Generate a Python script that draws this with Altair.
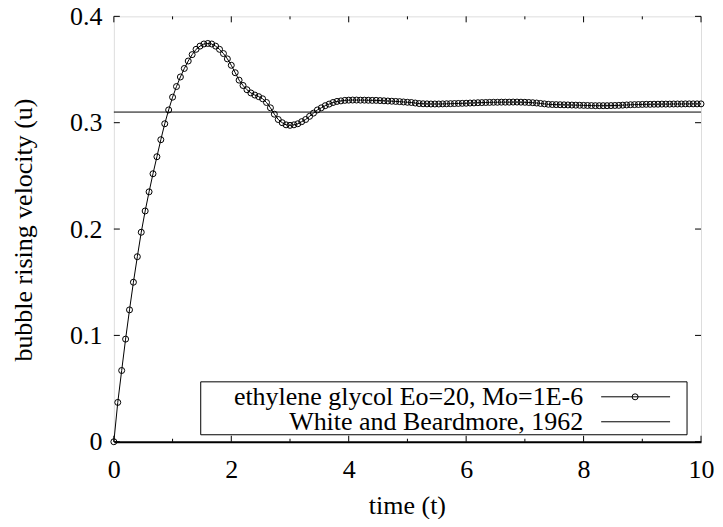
import altair as alt
import pandas as pd

# ---------------- data ----------------
dt_steps = 150  # samples from t=0 to t=10
time_t = [round(k * 10 / dt_steps, 4) for k in range(dt_steps + 1)]

velocity_u = [
    0.0, 0.037, 0.067, 0.0965, 0.124, 0.150, 0.174, 0.197, 0.217, 0.235,
    0.252, 0.268, 0.284, 0.299, 0.312, 0.324, 0.334, 0.343, 0.351, 0.358,
    0.364, 0.369, 0.372, 0.374, 0.3745, 0.374, 0.372, 0.369, 0.365, 0.360,
    0.354, 0.347, 0.340, 0.335, 0.331, 0.328, 0.326, 0.3245, 0.3225, 0.319,
    0.314, 0.308, 0.303, 0.300, 0.298, 0.2975, 0.298, 0.299, 0.301, 0.303,
    0.306, 0.309, 0.312, 0.314, 0.316, 0.3175, 0.319, 0.320, 0.3205, 0.321,
    0.3212, 0.3213, 0.3213, 0.3212, 0.3212, 0.3211, 0.321, 0.321, 0.3208, 0.3206,
    0.3204, 0.3202, 0.320, 0.3198, 0.3195, 0.3192, 0.319, 0.3185, 0.318, 0.3178,
    0.3177, 0.3176, 0.3176, 0.3176, 0.3177, 0.3178, 0.3179, 0.318, 0.3181, 0.3182,
    0.3183, 0.3185, 0.3186, 0.3188, 0.3189, 0.319, 0.3191, 0.3192, 0.3192, 0.3193,
    0.3193, 0.3193, 0.3194, 0.3194, 0.3193, 0.3192, 0.319, 0.3188, 0.3185, 0.3181,
    0.3177, 0.3173, 0.3171, 0.317, 0.3169, 0.3168, 0.3167, 0.3166, 0.3165, 0.3164,
    0.3163, 0.3162, 0.3161, 0.316, 0.316, 0.316, 0.316, 0.3161, 0.3162, 0.3163,
    0.3165, 0.3167, 0.3169, 0.317, 0.3171, 0.3172, 0.3173, 0.3173, 0.3174, 0.3174,
    0.3175, 0.3175, 0.3175, 0.3176, 0.3176, 0.3176, 0.3177, 0.3177, 0.3177, 0.3177,
    0.3177,
]

wb_time = [0, 10]
wb_value = [0.31, 0.31]

x_major = [0, 2, 4, 6, 8, 10]
x_minor = [1, 3, 5, 7, 9]
y_major = [0, 0.1, 0.2, 0.3, 0.4]

series_labels = ["ethylene glycol Eo=20, Mo=1E-6", "White and Beardmore, 1962"]
x_title = "time (t)"
y_title = "bubble rising velocity (u)"

# ---------------- layout ----------------
W, H = 588, 426
FONT = "Times New Roman, Liberation Serif, DejaVu Serif, serif"
FS = 26
MAJ, MIN = 6, 3

df = pd.DataFrame({"t": time_t, "u": velocity_u})
wb = pd.DataFrame({"t": wb_time, "u": wb_value})
xmaj = pd.DataFrame({"t": x_major})
xmin = pd.DataFrame({"t": x_minor})
ymaj = pd.DataFrame({"u": y_major})
one = pd.DataFrame({"k": [0]})

xs = alt.Scale(domain=[0, 10], nice=False, zero=False)
ys = alt.Scale(domain=[0, 0.4], nice=False, zero=False)

x_axis = alt.Axis(values=x_major, format="d", title="", grid=False, ticks=False,
                  tickSize=0, domain=True, domainColor="black", domainWidth=2,
                  labelFlush=False, labelOverlap=False,
                  labelFont=FONT, labelFontSize=FS,
                  labelColor="black", labelPadding=15)
y_axis = alt.Axis(values=y_major, format="~g", title="", grid=False, ticks=False,
                  tickSize=0, domain=False, labelFlush=False, labelOverlap=False,
                  labelFont=FONT, labelFontSize=FS,
                  labelColor="black", labelPadding=12)

line = alt.Chart(df).mark_line(color="black", strokeWidth=1).encode(
    x=alt.X("t:Q", scale=xs, axis=x_axis),
    y=alt.Y("u:Q", scale=ys, axis=y_axis),
)
pts = alt.Chart(df).mark_point(shape="circle", filled=False, size=36, color="black",
                               strokeWidth=1, opacity=1).encode(
    x=alt.X("t:Q", scale=xs), y=alt.Y("u:Q", scale=ys)
)
wb_line = alt.Chart(wb).mark_line(color="black", strokeWidth=1).encode(
    x=alt.X("t:Q", scale=xs), y=alt.Y("u:Q", scale=ys)
)

# inward ticks (gnuplot style), mirrored on all sides
tick_style = dict(color="black", strokeWidth=1)
t_bot_maj = alt.Chart(xmaj).mark_rule(**tick_style).encode(
    x=alt.X("t:Q", scale=xs), y=alt.value(H), y2=alt.value(H - MAJ))
t_top_maj = alt.Chart(xmaj).mark_rule(**tick_style).encode(
    x=alt.X("t:Q", scale=xs), y=alt.value(0), y2=alt.value(MAJ))
t_bot_min = alt.Chart(xmin).mark_rule(**tick_style).encode(
    x=alt.X("t:Q", scale=xs), y=alt.value(H), y2=alt.value(H - MIN))
t_top_min = alt.Chart(xmin).mark_rule(**tick_style).encode(
    x=alt.X("t:Q", scale=xs), y=alt.value(0), y2=alt.value(MIN))
t_left = alt.Chart(ymaj).mark_rule(**tick_style).encode(
    y=alt.Y("u:Q", scale=ys), x=alt.value(0), x2=alt.value(MAJ))
t_right = alt.Chart(ymaj).mark_rule(**tick_style).encode(
    y=alt.Y("u:Q", scale=ys), x=alt.value(W), x2=alt.value(W - MAJ))

# axis titles
xt = alt.Chart(one).mark_text(text=x_title, font=FONT, fontSize=FS, align="center",
                              baseline="middle", color="black").encode(
    x=alt.value(W / 2), y=alt.value(H + 64))
yt = alt.Chart(one).mark_text(text=y_title, font=FONT, fontSize=FS, align="center",
                              baseline="middle", angle=270, color="black").encode(
    x=alt.value(-90), y=alt.value(H / 2 + 1))

# legend box (bottom right, text right-aligned left of sample)
LX0, LX1, LY0, LY1 = 87, 574, 366, 419
TX = 470
R1, R2 = 381, 406
SX0, SX1, SXM = 488, 557, 522

leg_box = alt.Chart(one).mark_rect(fill="white", stroke="black", strokeWidth=1).encode(
    x=alt.value(LX0), x2=alt.value(LX1), y=alt.value(LY0), y2=alt.value(LY1))
leg_t1 = alt.Chart(one).mark_text(text=series_labels[0], font=FONT, fontSize=FS,
                                  align="right", baseline="middle", color="black").encode(
    x=alt.value(TX), y=alt.value(R1))
leg_t2 = alt.Chart(one).mark_text(text=series_labels[1], font=FONT, fontSize=FS,
                                  align="right", baseline="middle", color="black").encode(
    x=alt.value(TX), y=alt.value(R2))
leg_l1 = alt.Chart(one).mark_rule(color="black", strokeWidth=1).encode(
    x=alt.value(SX0), x2=alt.value(SX1), y=alt.value(R1))
leg_p1 = alt.Chart(one).mark_point(shape="circle", filled=False, size=36, color="black",
                                   strokeWidth=1, opacity=1).encode(
    x=alt.value(SXM), y=alt.value(R1))
leg_l2 = alt.Chart(one).mark_rule(color="black", strokeWidth=1).encode(
    x=alt.value(SX0), x2=alt.value(SX1), y=alt.value(R2))

chart = alt.layer(
    wb_line, line, pts,
    t_bot_maj, t_top_maj, t_bot_min, t_top_min, t_left, t_right,
    xt, yt,
    leg_box, leg_t1, leg_t2, leg_l1, leg_p1, leg_l2,
).properties(
    width=W, height=H,
    autosize=alt.AutoSizeParams(type="none"),
    padding={"left": 106, "top": 8, "right": 14, "bottom": 77},
).configure_view(
    stroke="black", strokeWidth=1
).configure(background="white")

chart.save("out.html", embed_options={"renderer": "svg", "actions": False})
